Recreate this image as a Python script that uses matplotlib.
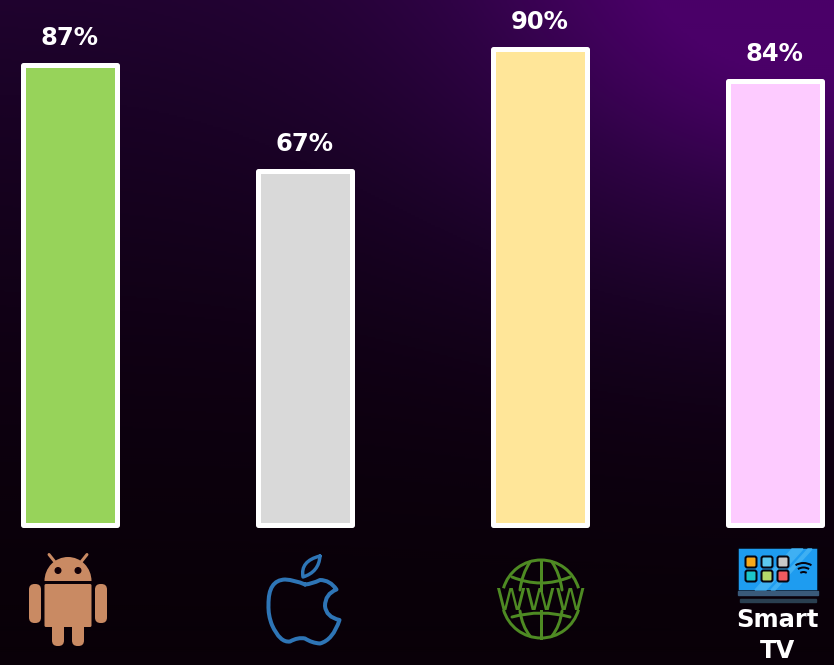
import numpy as np
import matplotlib
matplotlib.use('Agg')
import matplotlib.pyplot as plt
from matplotlib.path import Path
from matplotlib.transforms import Affine2D
from matplotlib.patches import PathPatch, Circle, Rectangle, FancyBboxPatch, Arc, Polygon
from matplotlib.colors import LinearSegmentedColormap

plt.rcParams['font.family'] = ['DejaVu Sans']

categories = ['Android', 'iOS', 'Web', 'Smart TV']
values = [87, 67, 90, 84]
bar_colors = ['#97d35a', '#d9d9d9', '#ffe699', '#fdcbff']
tile_colors = ['#f7a81b', '#5cc8ef', '#c8c8c8', '#1cc5c9', '#b5d96a', '#f05a5f']

W, H = 834, 665
PX = 72 / 100  # one pixel in points

fig = plt.figure(figsize=(W / 100, H / 100), dpi=100)

######################################################################
# background glow

bg = fig.add_axes([0, 0, 1, 1])
bg.axis('off')
xx, yy = np.meshgrid(np.linspace(0, 1, 417), np.linspace(0, 1, 333))
glow = np.exp(-(((xx - 0.97) / 0.42) ** 2 + (yy / 0.42) ** 2))
fade = np.clip(1 - yy / 0.95, 0, 1) ** 1.5 * 0.42
level = np.clip(glow * 0.7 + fade, 0, 1)
cmap = LinearSegmentedColormap.from_list(
    'glow', ['#090008', '#1a0226', '#2f0345', '#4a0068'])
bg.imshow(level, cmap=cmap, aspect='auto', vmin=0, vmax=1,
          extent=[0, W, H, 0], interpolation='bilinear')

######################################################################
# bars: 0 sits on pixel row 525, 5.29 px per percent

ax = fig.add_axes([0, 0, 1, 1])
ax.patch.set_alpha(0)
ax.axis('off')
ax.set_xlim(-69.8 / 235, (W - 69.8) / 235)
ax.set_ylim((525 - H) / 5.29, 525 / 5.29)

xpos = np.arange(len(categories))
bars = ax.bar(xpos, values, width=94 / 235, color=bar_colors,
              edgecolor='white', linewidth=5 * PX, joinstyle='round')
for x, v in zip(xpos, values):
    ax.annotate('%d%%' % v, (x, v), xytext=(0, 26.5 * PX),
                textcoords='offset points', ha='center', va='center',
                color='white', fontsize=17.5, fontweight='bold')

######################################################################
# icons, drawn in pixel coordinates

ic = fig.add_axes([0, 0, 1, 1])
ic.patch.set_alpha(0)
ic.axis('off')
ic.set_xlim(0, W)
ic.set_ylim(H, 0)


def rounded(x, y, w, h, r, **kw):
    p = FancyBboxPatch((x + r, y + r), w - 2 * r, h - 2 * r,
                       boxstyle='round,pad=%g,rounding_size=%g' % (r, r), **kw)
    ic.add_patch(p)
    return p


def curve(points, color, lw):
    codes = [Path.MOVETO] + [Path.CURVE3] * (len(points) - 1)
    ic.add_patch(PathPatch(Path(points, codes), fill=False, edgecolor=color,
                           linewidth=lw * PX, capstyle='round', joinstyle='round'))


# android
brown = '#c98a63'
ic.add_patch(PathPatch(Path.wedge(180, 360).transformed(
    Affine2D().scale(23.5, 24).translate(68, 581)),
    facecolor=brown, edgecolor='none'))
ic.plot([55, 49], [562, 554.5], color=brown, lw=3 * PX, solid_capstyle='round')
ic.plot([81, 87], [562, 554.5], color=brown, lw=3 * PX, solid_capstyle='round')
ic.add_patch(Circle((58, 570.5), 2.8, color='#120008'))
ic.add_patch(Circle((78, 570.5), 2.8, color='#120008'))
rounded(44.5, 584, 47, 43, 1.5, facecolor=brown, edgecolor='none')
rounded(29, 584, 12, 39, 5.5, facecolor=brown, edgecolor='none')
rounded(95, 584, 12, 39, 5.5, facecolor=brown, edgecolor='none')
rounded(52, 620, 12, 26, 5.5, facecolor=brown, edgecolor='none')
rounded(72, 620, 12, 26, 5.5, facecolor=brown, edgecolor='none')

# apple
blue = '#2e75b6'
curve([(305, 584.5), (312, 584), (320, 580), (330, 580), (336.5, 589.5),
       (325, 594), (325, 606), (326, 617), (339.5, 620), (333, 640),
       (320, 643.5), (312, 643), (305, 638.5), (298, 637), (290, 641.5),
       (280, 643), (272, 625), (268, 615), (268.5, 605), (268, 580),
       (285, 579.5), (295, 580), (305, 584.5)], blue, 4)
curve([(320, 556), (319, 572), (303, 577), (300, 561), (320, 556)], blue, 3.4)

# globe
green = '#4e8a23'
gx, gy = 541, 599
for t1, t2 in [(196, 344), (16, 164)]:
    ic.add_patch(Arc((gx, gy), 78, 78, theta1=t1, theta2=t2, color=green, lw=3 * PX))
ic.plot([gx, gx], [560, 590], color=green, lw=3 * PX)
ic.plot([gx, gx], [611, 638], color=green, lw=3 * PX)
curve([(512, 577), (gx, 589), (570, 577)], green, 3)
curve([(512, 617), (gx, 609), (570, 617)], green, 3)
curve([(530, 562), (522, 574), (520, 590)], green, 3)
curve([(552, 562), (560, 574), (562, 590)], green, 3)
curve([(520, 611), (522, 626), (530, 636)], green, 3)
curve([(562, 611), (560, 626), (552, 636)], green, 3)
ic.text(gx, 602, 'WWW', ha='center', va='center', color=green, fontsize=22)

# smart tv
ink = '#050510'
ic.add_patch(Rectangle((738, 548), 80, 43, facecolor='#1e9cf0', edgecolor=ink, lw=1.5 * PX))
ic.add_patch(Polygon([(792, 549), (803, 549), (766, 590), (755, 590)], color='#3fb0f3'))
ic.add_patch(Polygon([(808, 549), (812, 549), (775, 590), (771, 590)], color='#3fb0f3'))
k = 0
for ty in [562, 576]:
    for tx in [751, 767, 783]:
        rounded(tx - 5.5, ty - 5.5, 11, 11, 2, facecolor=tile_colors[k],
                edgecolor=ink, linewidth=2 * PX)
        k += 1
for r in [6, 10.5, 15]:
    ic.add_patch(Arc((803.5, 578), 2 * r, 2 * r, theta1=238, theta2=302, color=ink, lw=2 * PX))
ic.add_patch(Rectangle((738, 591), 80, 4, color='#3a5a7a'))
ic.add_patch(Rectangle((740, 599), 76, 3, color='#2a3f50'))
ic.text(777.5, 635.5, 'Smart\nTV', ha='center', va='center', color='white',
        fontsize=17.5, fontweight='bold', linespacing=1.35)

fig.savefig('out.png', dpi=100)
